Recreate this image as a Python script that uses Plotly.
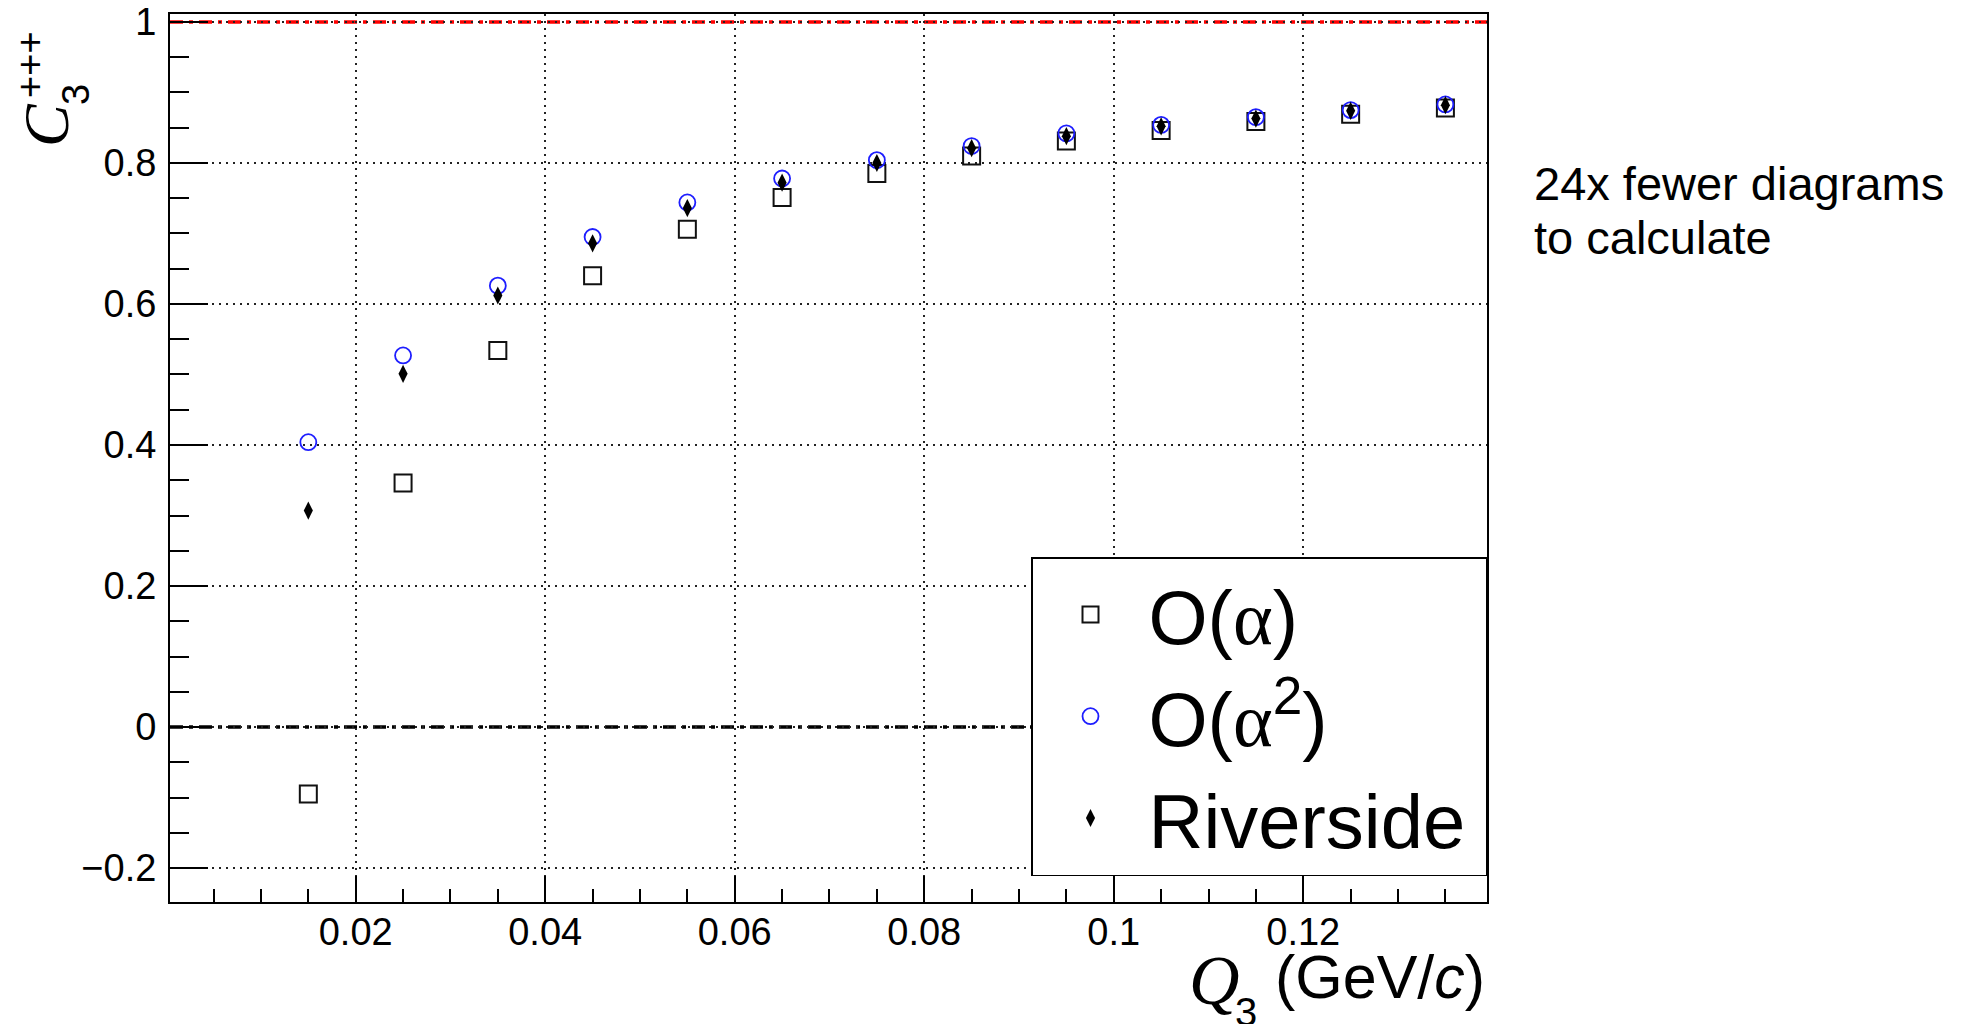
import plotly.graph_objects as go

# ---- data ----
q3 = [0.015, 0.025, 0.035, 0.045, 0.055, 0.065, 0.075, 0.085, 0.095, 0.105, 0.115, 0.125, 0.135]
c3_alpha = [-0.095, 0.346, 0.534, 0.640, 0.706, 0.751, 0.785, 0.810, 0.831, 0.846, 0.859, 0.869, 0.878]
c3_alpha2 = [0.404, 0.527, 0.626, 0.695, 0.744, 0.778, 0.804, 0.824, 0.842, 0.854, 0.865, 0.875, 0.883]
c3_riverside = [0.307, 0.501, 0.612, 0.686, 0.736, 0.772, 0.800, 0.821, 0.838, 0.852, 0.863, 0.874, 0.882]
series_names = ["O(<span style=\"font-family:Liberation Serif\">α</span>)",
                "O(<span style=\"font-family:Liberation Serif\">α</span><sup>2</sup>)",
                "Riverside\u2009"]
ref_levels = [0, 1]
x_tick_labels = ["0.02", "0.04", "0.06", "0.08", "0.1", "0.12"]
x_tick_vals = [0.02, 0.04, 0.06, 0.08, 0.10, 0.12]
y_tick_vals = [-0.2, 0, 0.2, 0.4, 0.6, 0.8, 1.0]
y_tick_labels = ["\u22120.2", "0", "0.2", "0.4", "0.6", "0.8", "1"]
side_note = ["24x fewer diagrams", "to calculate"]

# ---- layout geometry (pixels) ----
FW, FH = 1973, 1024
L, R, T, B = 170, 1487, 14, 902
W, H = R - L, B - T

def px(xp):
    return (xp - L) / W

def py(yp):
    return (B - yp) / H

FONT = "Liberation Sans"

fig = go.Figure()
fig.add_trace(go.Scatter(x=q3, y=c3_alpha, mode="markers", name=series_names[0],
                         marker=dict(symbol="square-open", size=17, color="#111",
                                     line=dict(width=2, color="#111"))))
fig.add_trace(go.Scatter(x=q3, y=c3_alpha2, mode="markers", name=series_names[1],
                         marker=dict(symbol="circle-open", size=16, color="rgb(30,30,255)",
                                     line=dict(width=1.8, color="rgb(30,30,255)"))))
fig.add_trace(go.Scatter(x=q3, y=c3_riverside, mode="markers", name=series_names[2],
                         marker=dict(symbol="diamond-tall", size=13, color="black",
                                     line=dict(width=0))))

dashdot = "13px,6px,4px,6px"
for lvl, col in zip(ref_levels, ["black", "rgb(255,0,0)"]):
    fig.add_shape(type="line", xref="paper", x0=0, x1=1, yref="y", y0=lvl, y1=lvl,
                  line=dict(color=col, width=3.5, dash=dashdot), layer="between")

grid = dict(showgrid=True, gridcolor="#222", gridwidth=1.5, griddash="2px,5px")

fig.update_xaxes(range=[0.000403, 0.13939], tickmode="array", tickvals=x_tick_vals,
                 ticktext=x_tick_labels, ticks="inside", ticklen=26, tickwidth=2,
                 tickcolor="black", showline=True, linewidth=2, linecolor="black",
                 mirror=True, zeroline=False, automargin=False, ticklabelstandoff=-5,
                 tickfont=dict(family=FONT, size=38, color="black"),
                 minor=dict(tickmode="linear", tick0=0, dtick=0.005, ticks="inside",
                            ticklen=13, tickwidth=2, tickcolor="black", showgrid=False),
                 **grid)
fig.update_yaxes(range=[-0.2482, 1.0113], tickmode="array", tickvals=y_tick_vals,
                 ticktext=y_tick_labels, ticks="inside", ticklen=38, tickwidth=2,
                 tickcolor="black", showline=True, linewidth=2, linecolor="black",
                 mirror=True, zeroline=False, ticklabelstandoff=4, automargin=False,
                 tickfont=dict(family=FONT, size=38, color="black"),
                 minor=dict(tickmode="linear", tick0=0, dtick=0.05, ticks="inside",
                            ticklen=19, tickwidth=2, tickcolor="black", showgrid=False),
                 **grid)

annotations = [
    # x-axis title pieces
    dict(text="<i>Q</i>", xref="paper", yref="paper", x=px(1214), y=py(981),
         xanchor="center", yanchor="middle", showarrow=False,
         font=dict(family="Liberation Serif", size=70, color="black")),
    dict(text="3", xref="paper", yref="paper", x=px(1246), y=py(1012),
         xanchor="center", yanchor="middle", showarrow=False,
         font=dict(family=FONT, size=40, color="black")),
    dict(text="(GeV/<i>c</i>)", xref="paper", yref="paper", x=1.0, y=py(977),
         xanchor="right", yanchor="middle", showarrow=False,
         font=dict(family=FONT, size=61, color="black")),
    # y-axis title pieces
    dict(text="<i>C</i>", xref="paper", yref="paper", x=px(46), y=py(125),
         xanchor="center", yanchor="middle", textangle=-90, showarrow=False,
         font=dict(family="Liberation Serif", size=64, color="black")),
    dict(text="3", xref="paper", yref="paper", x=px(76), y=py(95),
         xanchor="center", yanchor="middle", textangle=-90, showarrow=False,
         font=dict(family=FONT, size=38, color="black")),
    dict(text="+++", xref="paper", yref="paper", x=px(30), y=py(65),
         xanchor="center", yanchor="middle", textangle=-90, showarrow=False,
         font=dict(family=FONT, size=38, color="black")),
    # side note
    dict(text=side_note[0], xref="paper", yref="paper", x=px(1532), y=py(183),
         xanchor="left", yanchor="middle", showarrow=False,
         font=dict(family=FONT, size=47, color="black")),
    dict(text=side_note[1], xref="paper", yref="paper", x=px(1532), y=py(238),
         xanchor="left", yanchor="middle", showarrow=False,
         font=dict(family=FONT, size=47, color="black")),
]

fig.update_layout(
    width=FW, height=FH,
    margin=dict(l=L, r=FW - R, t=T, b=FH - B, pad=0, autoexpand=False),
    paper_bgcolor="white", plot_bgcolor="white",
    font=dict(family=FONT, color="black"),
    showlegend=True,
    legend=dict(x=1.0, y=py(876), xanchor="right", yanchor="bottom",
                bgcolor="white", bordercolor="black", borderwidth=1.5,
                font=dict(family=FONT, size=76, color="black"),
                itemwidth=106, tracegroupgap=0),
    annotations=annotations,
    hovermode=False,
)

fig.write_html("out.html")
